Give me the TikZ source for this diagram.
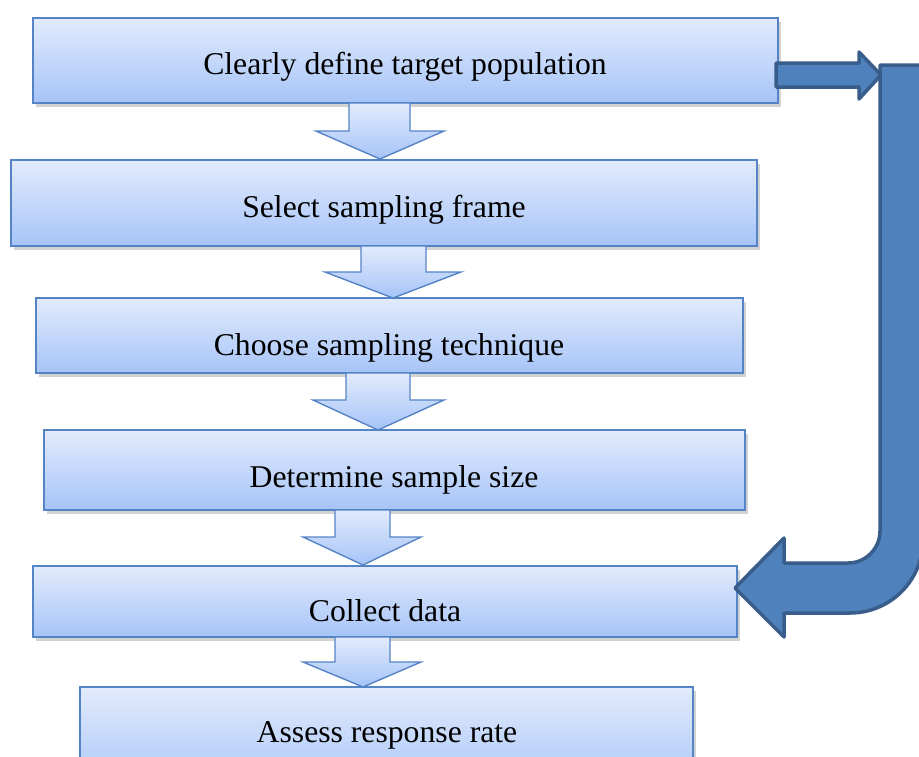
\documentclass[tikz,border=0pt]{standalone}
\usepackage{fontspec}
\setmainfont{Liberation Serif}
\usetikzlibrary{shadows}
\definecolor{boxtop}{HTML}{E2EBFC}
\definecolor{boxbot}{HTML}{A6C4F8}
\definecolor{boxline}{HTML}{5584C6}
\definecolor{darkfill}{HTML}{4F81BD}
\definecolor{darkline}{HTML}{385D8A}
\begin{document}
\begin{tikzpicture}[x=1pt,y=-1pt,
  stepbox/.style={rectangle, draw=boxline, line width=1.4pt, top color=boxtop, bottom color=boxbot, inner sep=0pt,
    drop shadow={opacity=.35, shadow xshift=2.5pt, shadow yshift=-3.5pt}},
  blockarrow/.style={draw=boxline, line width=1.4pt, top color=boxtop, bottom color=boxbot, line join=miter},
  darkarrow/.style={fill=darkfill, draw=darkline, line width=3.5pt, line join=round},
  lbl/.style={anchor=base, font=\fontsize{31.7}{36}\selectfont, text=black, inner sep=0pt}]
\useasboundingbox (0,0) rectangle (919,756);
\clip (0,0) rectangle (919,756);
\fill[white] (0,0) rectangle (919,756);
% boxes
\node[stepbox, minimum width=745pt, minimum height=85pt] (b1) at (405.5,60.5) {};
\node[stepbox, minimum width=746pt, minimum height=86pt] (b2) at (384,203) {};
\node[stepbox, minimum width=707pt, minimum height=75pt] (b3) at (389.5,335.5) {};
\node[stepbox, minimum width=701pt, minimum height=80pt] (b4) at (394.5,470) {};
\node[stepbox, minimum width=704pt, minimum height=71pt] (b5) at (385,601.5) {};
\node[stepbox, minimum width=613pt, minimum height=106pt] (b6) at (386.5,740) {};
% labels
\node[lbl] (t1) at (405,74) {Clearly define target population};
\node[lbl] (t2) at (384,217) {Select sampling frame};
\node[lbl] (t3) at (389,355) {Choose sampling technique};
\node[lbl] (t4) at (394,487) {Determine sample size};
\node[lbl] (t5) at (385,621) {Collect data};
\node[lbl] (t6) at (387,742) {Assess response rate};
% block arrows between boxes
\draw[blockarrow] (349,103) -- (349,131) -- (316,131) -- (380,159) -- (444,131) -- (410,131) -- (410,103) -- cycle;
\draw[blockarrow] (361,246) -- (361,272) -- (325,272) -- (393,298) -- (461,272) -- (426,272) -- (426,246) -- cycle;
\draw[blockarrow] (346,373) -- (346,400) -- (313,400) -- (378,430) -- (444,400) -- (410,400) -- (410,373) -- cycle;
\draw[blockarrow] (335,510) -- (335,537) -- (303,537) -- (363,565) -- (421,537) -- (390,537) -- (390,510) -- cycle;
\draw[blockarrow] (335,637) -- (335,662) -- (303,662) -- (363,687) -- (421,662) -- (390,662) -- (390,637) -- cycle;
% dark arrows
\draw[darkarrow] (776,63) -- (859,63) -- (859,52) -- (881,75) -- (859,99) -- (859,87) -- (776,87) -- cycle;
\draw[darkarrow] (880,65) -- (923,65) -- (923,540) arc[start angle=0, end angle=90, radius=73]
  -- (784,613) -- (784,637) -- (735,588) -- (784,538) -- (784,563) -- (848,563)
  arc[start angle=90, end angle=0, radius=32] -- cycle;
\end{tikzpicture}
\end{document}
